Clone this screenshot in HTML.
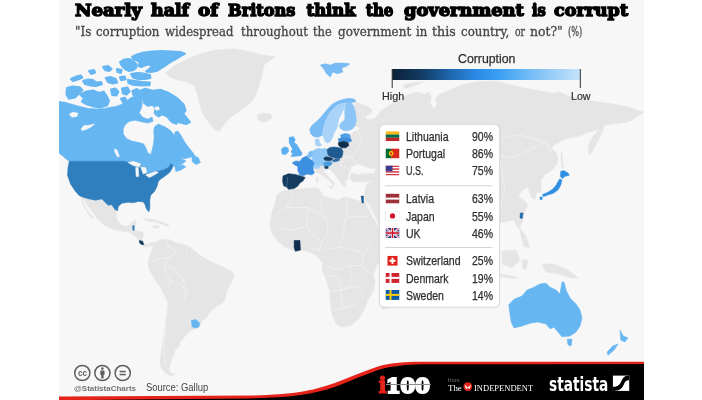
<!DOCTYPE html>
<html><head><meta charset="utf-8"><title>Nearly half of Britons think the government is corrupt</title>
<style>
html,body{margin:0;padding:0;background:#fff;}
body{width:702px;height:400px;position:relative;overflow:hidden;font-family:"Liberation Sans",sans-serif;}
#stage{position:absolute;left:59px;top:0;width:585px;height:400px;background:#f7f7f7;overflow:hidden;}
svg{position:absolute;left:0;top:0;}
.t{position:absolute;white-space:nowrap;line-height:1;transform-origin:0 0;}
.flag{position:absolute;left:385.5px;width:14px;height:10px;overflow:hidden;}
</style></head><body>
<div id="stage"></div>
<svg width="702" height="400" viewBox="0 0 702 400">
<defs>
<clipPath id="cl"><rect x="59" y="0" width="585" height="400"/></clipPath>
<linearGradient id="gr" x1="0" y1="0" x2="1" y2="0">
<stop offset="0" stop-color="#0b2238"/><stop offset="0.15" stop-color="#123a62"/><stop offset="0.3" stop-color="#1d64a8"/><stop offset="0.45" stop-color="#2a8be6"/><stop offset="0.56" stop-color="#3a9ff2"/><stop offset="0.76" stop-color="#7cc0f7"/><stop offset="1" stop-color="#c6e3fb"/>
</linearGradient>
</defs>
<g clip-path="url(#cl)">
<path d="M165.8,72.6 L173.3,66.3 L183.3,61.3 L193.3,56.3 L203.4,53.0 L213.4,50.5 L223.4,49.5 L232.7,48.8 L242.7,50.0 L252.7,52.5 L262.8,55.0 L275.3,57.0 L270.3,60.1 L264.0,65.1 L262.8,71.3 L261.5,77.6 L259.0,85.1 L256.5,92.6 L254.0,98.9 L249.0,103.9 L242.7,108.9 L235.2,113.9 L227.7,120.2 L222.7,126.5 L218.9,131.5 L213.9,129.0 L208.9,122.7 L203.9,115.2 L200.9,108.9 L198.9,101.4 L197.3,93.1 L193.8,85.6 L186.3,81.6 L176.3,79.6 L170.0,77.6Z" fill="#e5e5e5" stroke="#e5e5e5" stroke-width="0.6" stroke-linejoin="round"/>
<path d="M257.1,114.7 L262.7,113.2 L270.2,113.9 L272.7,116.4 L268.9,120.7 L262.7,122.2 L258.1,119.7Z" fill="#e5e5e5" stroke="#e5e5e5" stroke-width="0.6" stroke-linejoin="round"/>
<path d="M83.1,197.2 L89.3,198.9 L95.6,200.2 L101.9,198.9 L105.6,202.7 L108.1,205.2 L111.9,204.7 L115.1,209.7 L115.5,210.0 L116.3,216.0 L117.8,221.3 L121.6,225.3 L126.0,226.5 L129.8,225.0 L132.0,222.0 L135.3,220.5 L136.5,223.2 L134.8,226.5 L134.2,229.8 L137.5,231.0 L141.3,231.5 L143.8,233.3 L143.2,236.3 L142.0,239.3 L143.5,241.8 L145.0,244.5 L148.0,244.2 L151.8,242.4 L155.6,242.7 L155.6,245.3 L153.3,245.3 L149.5,246.0 L145.8,246.8 L142.8,246.0 L139.9,243.8 L138.7,240.8 L136.9,237.8 L133.3,234.6 L128.5,232.2 L121.6,231.0 L115.5,229.8 L109.5,228.0 L104.3,225.0 L99.8,221.3 L96.0,216.8 L93.0,212.3 L90.0,208.5 L87.0,204.0 L84.0,200.3Z" fill="#e5e5e5" stroke="#e5e5e5" stroke-width="0.6" stroke-linejoin="round"/>
<path d="M81.8,197.5 L83.3,202.5 L85.5,207.0 L88.5,211.5 L91.5,215.3 L93.8,218.3 L93.0,219.0 L90.0,216.0 L87.0,211.5 L84.0,206.3 L81.8,201.0Z" fill="#e5e5e5" stroke="#e5e5e5" stroke-width="0.6" stroke-linejoin="round"/>
<path d="M144.5,218.8 L153.2,219.5 L163.3,222.5 L168.3,224.5 L163.3,224.5 L154.5,222.0 L145.7,220.5Z" fill="#e5e5e5" stroke="#e5e5e5" stroke-width="0.6" stroke-linejoin="round"/>
<path d="M152.7,225.8 L158.8,225.8 L158.8,228.0 L153.2,228.0Z" fill="#e5e5e5" stroke="#e5e5e5" stroke-width="0.6" stroke-linejoin="round"/>
<path d="M165.3,224.5 L168.3,224.5 L168.3,226.0 L165.3,226.0Z" fill="#e5e5e5" stroke="#e5e5e5" stroke-width="0.6" stroke-linejoin="round"/>
<path d="M153.8,245.0 L157.6,241.3 L162.6,239.5 L168.8,239.5 L173.9,242.0 L180.1,243.8 L186.4,245.5 L192.7,248.8 L196.4,252.6 L201.4,256.3 L207.7,260.1 L215.2,263.8 L224.0,267.6 L231.5,271.4 L234.0,275.1 L232.8,280.1 L229.0,286.4 L226.5,292.7 L225.2,298.9 L221.5,303.9 L216.5,306.4 L211.5,310.2 L207.7,315.2 L205.2,319.0 L201.4,321.5 L200.2,325.2 L197.7,327.7 L191.4,330.3 L186.4,334.0 L183.9,337.8 L180.1,341.5 L178.9,346.5 L175.1,350.3 L173.9,355.3 L171.4,360.3 L170.1,365.3 L168.8,369.1 L171.4,372.9 L175.1,374.9 L170.1,375.4 L165.1,372.9 L161.3,367.8 L160.1,361.6 L161.3,352.8 L162.6,344.0 L163.8,335.3 L165.1,325.2 L166.3,315.2 L167.6,305.2 L167.6,301.4 L163.8,293.9 L160.1,286.4 L154.6,278.9 L150.1,271.4 L148.0,265.1 L148.8,258.8 L151.3,251.3Z" fill="#e5e5e5" stroke="#e5e5e5" stroke-width="0.6" stroke-linejoin="round"/>
<path d="M277.4,194.4 L283.0,191.1 L290.4,189.8 L299.6,189.3 L308.9,188.0 L318.1,188.0 L320.9,191.7 L323.7,196.3 L331.1,198.5 L338.5,200.0 L344.1,197.2 L349.6,198.1 L357.0,200.4 L362.6,201.9 L363.8,199.4 L368.3,208.8 L373.2,218.1 L378.8,227.5 L382.6,235.0 L390.1,238.0 L397.6,236.9 L395.7,240.7 L390.1,248.2 L382.6,255.7 L376.9,265.0 L373.2,274.4 L375.1,281.9 L373.2,291.3 L367.6,300.7 L363.8,310.1 L358.2,319.5 L350.7,325.8 L341.3,327.0 L335.7,323.2 L331.9,313.8 L330.0,302.6 L330.0,291.3 L326.3,280.1 L322.5,270.7 L322.5,263.2 L316.9,255.7 L309.4,251.9 L301.9,250.0 L294.4,250.8 L285.0,247.0 L277.5,240.7 L271.9,233.2 L270.0,223.8 L271.9,212.5 L275.6,201.3Z" fill="#e5e5e5" stroke="#e5e5e5" stroke-width="0.6" stroke-linejoin="round"/>
<path d="M382.6,291.3 L388.2,288.3 L390.8,295.1 L387.1,308.2 L382.6,309.3 L381.1,300.7Z" fill="#e5e5e5" stroke="#e5e5e5" stroke-width="0.6" stroke-linejoin="round"/>
<path d="M355.0,101.0 L360.0,104.0 L367.6,106.4 L372.6,110.0 L370.0,114.0 L365.0,116.4 L367.6,120.0 L374.0,119.0 L379.0,114.0 L380.0,111.3 L389.1,105.6 L398.2,99.9 L402.8,97.6 L410.0,94.0 L417.0,92.0 L424.4,94.2 L429.0,91.9 L431.3,97.6 L430.1,103.3 L433.6,109.0 L437.0,105.6 L435.8,98.7 L439.3,94.2 L446.1,91.9 L452.9,88.5 L462.0,85.1 L471.2,82.8 L480.3,81.7 L489.4,81.0 L498.5,81.7 L507.6,83.9 L516.8,86.2 L525.9,88.5 L540.0,90.8 L553.0,93.0 L560.0,92.0 L568.0,96.0 L583.0,99.0 L598.0,102.0 L613.0,104.0 L628.0,107.0 L640.0,111.0 L644.0,112.0 L639.0,115.0 L632.3,120.1 L625.6,122.4 L616.6,123.5 L607.6,124.6 L604.2,125.8 L602.0,132.5 L599.0,138.2 L596.3,143.8 L593.0,150.5 L590.0,154.6 L588.4,152.8 L588.4,147.2 L590.0,141.5 L593.0,136.6 L596.3,132.5 L599.0,129.1 L591.8,131.4 L585.0,133.6 L578.3,136.6 L569.3,138.2 L562.5,140.4 L555.8,143.8 L551.3,147.2 L553.5,150.5 L556.9,153.9 L558.0,158.4 L556.9,164.0 L553.5,168.6 L549.0,171.9 L544.5,175.3 L541.0,180.0 L541.0,192.4 L536.5,192.4 L535.3,199.1 L531.6,198.0 L529.7,192.4 L527.8,186.8 L522.2,190.5 L518.5,196.1 L524.1,199.9 L527.8,205.5 L524.1,213.0 L522.2,222.4 L518.5,229.5 L514.0,220.0 L504.0,222.0 L500.0,222.0 L495.0,235.0 L490.0,250.0 L440.0,260.0 L379.5,226.0 L377.0,220.0 L369.4,205.0 L364.5,199.0 L365.0,190.0 L367.0,184.0 L373.7,180.6 L366.3,181.5 L358.9,181.9 L352.4,181.5 L349.6,177.8 L351.5,173.0 L351.5,166.7 L349.0,172.0 L347.8,179.6 L345.0,182.4 L346.0,187.0 L343.0,186.0 L340.4,181.5 L336.7,176.9 L333.0,172.2 L329.0,169.0 L325.6,168.5 L323.7,171.9 L327.4,175.9 L331.0,179.6 L334.8,183.0 L333.9,186.0 L332.0,184.3 L329.3,180.6 L325.6,177.8 L321.9,175.0 L318.5,173.0 L315.4,171.9 L314.4,168.5 L308.0,162.0 L318.0,152.0 L335.0,152.0 L345.0,144.0 L348.0,139.0 L350.0,135.0 L353.0,132.0 L358.0,131.0 L360.0,128.0 L355.0,126.0 L355.0,112.0Z" fill="#e5e5e5" stroke="#e5e5e5" stroke-width="0.6" stroke-linejoin="round"/>
<path d="M351.5,166.7 L358.9,164.8 L366.3,167.6 L375.6,169.4 L373.7,173.1 L366.3,173.1 L357.0,174.0 L351.5,172.2Z" fill="#f7f7f7" stroke="#f7f7f7" stroke-width="0.6" stroke-linejoin="round"/>
<path d="M329.0,186.0 L333.5,186.0 L332.5,188.5 L329.5,187.5Z" fill="#e5e5e5" stroke="#e5e5e5" stroke-width="0.6" stroke-linejoin="round"/>
<path d="M316.3,177.0 L317.9,176.5 L318.0,182.0 L316.4,182.4Z" fill="#e5e5e5" stroke="#e5e5e5" stroke-width="0.6" stroke-linejoin="round"/>
<path d="M402.8,85.1 L411.9,82.8 L423.3,81.7 L418.7,83.9 L410.8,86.9 L405.0,88.5Z" fill="#e5e5e5" stroke="#e5e5e5" stroke-width="0.6" stroke-linejoin="round"/>
<path d="M561.4,150.5 L562.5,158.4 L563.6,166.3 L562.5,169.7 L561.4,164.0 L560.7,155.0Z" fill="#e5e5e5" stroke="#e5e5e5" stroke-width="0.4" stroke-linejoin="round"/>
<path d="M520.0,228.0 L526.0,236.0 L530.0,248.0 L524.0,246.0 L520.8,236.0Z" fill="#e5e5e5" stroke="#e5e5e5" stroke-width="0.6" stroke-linejoin="round"/>
<path d="M502.0,251.2 L516.0,250.0 L520.0,260.0 L512.0,268.0 L502.0,264.0Z" fill="#e5e5e5" stroke="#e5e5e5" stroke-width="0.6" stroke-linejoin="round"/>
<path d="M522.0,260.0 L528.0,260.0 L526.0,270.0 L522.4,268.0Z" fill="#e5e5e5" stroke="#e5e5e5" stroke-width="0.6" stroke-linejoin="round"/>
<path d="M542.0,264.0 L554.0,264.0 L568.0,270.0 L578.0,278.0 L570.0,278.0 L558.0,274.0 L546.0,272.0Z" fill="#e5e5e5" stroke="#e5e5e5" stroke-width="0.6" stroke-linejoin="round"/>
<path d="M496.0,273.2 L516.0,276.8 L516.0,278.8 L496.0,276.0Z" fill="#e5e5e5" stroke="#e5e5e5" stroke-width="0.6" stroke-linejoin="round"/>
<path d="M59.0,101.4 L65.4,102.3 L72.8,104.5 L80.2,106.5 L88.6,108.5 L96.9,109.0 L104.3,108.5 L111.7,107.0 L115.7,106.4 L122.1,104.2 L126.4,101.0 L130.6,97.8 L136.0,95.7 L140.3,97.8 L142.4,103.2 L141.3,108.5 L139.2,112.8 L142.4,117.1 L147.7,119.2 L152.0,117.1 L153.1,121.3 L147.7,123.0 L141.3,121.8 L134.9,120.3 L129.6,121.3 L125.3,124.5 L123.2,128.8 L123.2,134.1 L126.4,138.4 L131.7,141.0 L138.1,142.3 L143.5,143.8 L146.0,148.0 L147.7,152.9 L150.9,154.4 L152.4,149.1 L153.7,142.7 L154.2,136.3 L153.7,130.9 L154.6,126.7 L158.4,124.1 L164.8,126.7 L170.2,130.3 L174.5,135.2 L175.1,132.0 L177.7,130.9 L180.9,135.2 L184.1,141.0 L188.3,147.0 L192.6,152.3 L194.8,155.5 L190.5,157.2 L184.1,158.7 L180.8,157.6 L183.0,159.5 L186.0,161.0 L182.0,164.0 L178.0,166.0 L183.3,165.0 L185.8,167.0 L179.6,170.6 L175.8,171.4 L175.0,167.5 L173.3,165.1 L170.8,163.8 L168.3,167.6 L163.3,170.0 L158.3,171.4 L155.7,171.4 L145.7,175.0 L147.0,172.6 L145.7,167.6 L140.7,167.0 L140.7,163.8 L133.2,161.3 L128.2,162.6 L124.4,161.3 L69.3,161.3 L66.8,159.6 L63.0,156.3 L59.0,153.0Z" fill="#66b6f2" stroke="#66b6f2" stroke-width="0.6" stroke-linejoin="round"/>
<path d="M192.0,155.0 L198.3,157.6 L200.4,162.6 L195.8,164.6 L192.0,161.3Z" fill="#66b6f2" stroke="#66b6f2" stroke-width="0.6" stroke-linejoin="round"/>
<path d="M114.4,148.8 L116.9,150.0 L119.4,156.3 L117.6,157.0 L115.1,152.6Z" fill="#f7f7f7" stroke="#f7f7f7" stroke-width="0.6" stroke-linejoin="round"/>
<path d="M81.0,129.0 L84.0,125.5 L88.0,125.5 L94.5,124.0 L91.0,127.0 L86.0,129.5 L82.0,130.5Z" fill="#f7f7f7" stroke="#f7f7f7" stroke-width="0.6" stroke-linejoin="round"/>
<path d="M69.3,114.0 L73.0,112.2 L78.0,113.2 L76.8,116.4 L71.8,117.2Z" fill="#f7f7f7" stroke="#f7f7f7" stroke-width="0.6" stroke-linejoin="round"/>
<path d="M132.0,57.0 L137.0,54.4 L144.0,52.4 L152.0,51.4 L162.0,51.0 L172.0,51.4 L180.0,52.0 L185.0,53.6 L181.0,56.0 L177.0,58.4 L172.0,61.0 L168.0,63.6 L164.0,66.4 L160.0,69.0 L156.0,71.0 L151.0,72.0 L146.0,71.6 L149.0,69.0 L152.0,66.4 L149.0,64.4 L145.0,65.6 L141.0,67.0 L138.0,65.6 L140.0,62.4 L137.0,60.4 L133.6,59.6Z" fill="#66b6f2" stroke="#66b6f2" stroke-width="2.0" stroke-linejoin="round"/>
<path d="M120.0,62.0 L124.0,59.6 L129.0,59.0 L133.0,61.0 L136.0,63.6 L136.4,67.6 L133.6,70.0 L129.0,71.0 L125.0,69.0 L122.0,66.0Z" fill="#66b6f2" stroke="#66b6f2" stroke-width="2.0" stroke-linejoin="round"/>
<path d="M131.0,74.0 L137.0,73.0 L144.0,73.6 L150.0,75.0 L150.4,78.0 L145.0,79.0 L138.0,79.0 L133.0,77.6Z" fill="#66b6f2" stroke="#66b6f2" stroke-width="2.0" stroke-linejoin="round"/>
<path d="M128.0,80.0 L135.0,81.0 L143.0,82.0 L150.0,82.4 L149.6,85.2 L141.0,85.6 L133.0,84.8 L128.4,83.0Z" fill="#66b6f2" stroke="#66b6f2" stroke-width="2.0" stroke-linejoin="round"/>
<path d="M71.0,79.0 L76.0,76.6 L81.0,75.6 L82.4,77.6 L78.0,79.6 L73.0,81.0Z" fill="#66b6f2" stroke="#66b6f2" stroke-width="2.0" stroke-linejoin="round"/>
<path d="M83.0,81.0 L88.0,79.4 L93.0,80.0 L96.0,82.6 L101.0,82.0 L102.0,84.4 L96.0,86.0 L90.0,85.4 L85.0,84.0Z" fill="#66b6f2" stroke="#66b6f2" stroke-width="2.0" stroke-linejoin="round"/>
<path d="M89.0,71.0 L94.0,70.0 L95.2,72.6 L91.2,74.0Z" fill="#66b6f2" stroke="#66b6f2" stroke-width="2.0" stroke-linejoin="round"/>
<path d="M103.0,67.0 L108.0,66.0 L111.6,69.0 L109.0,71.0 L105.0,70.0Z" fill="#66b6f2" stroke="#66b6f2" stroke-width="2.0" stroke-linejoin="round"/>
<path d="M105.6,78.0 L110.4,77.0 L115.6,79.0 L117.2,82.6 L112.8,83.6 L108.0,82.0Z" fill="#66b6f2" stroke="#66b6f2" stroke-width="2.0" stroke-linejoin="round"/>
<path d="M117.0,69.0 L121.6,70.0 L120.8,73.0 L117.4,72.0Z" fill="#66b6f2" stroke="#66b6f2" stroke-width="2.0" stroke-linejoin="round"/>
<path d="M120.0,77.0 L124.8,76.6 L125.6,79.4 L120.8,80.0Z" fill="#66b6f2" stroke="#66b6f2" stroke-width="2.0" stroke-linejoin="round"/>
<path d="M67.0,88.0 L73.0,86.4 L79.6,87.2 L82.4,90.0 L78.4,94.0 L75.0,97.6 L69.0,98.8 L66.4,94.4Z" fill="#66b6f2" stroke="#66b6f2" stroke-width="2.0" stroke-linejoin="round"/>
<path d="M80.0,94.4 L86.0,91.6 L93.6,90.6 L99.0,93.0 L103.6,91.6 L106.4,95.6 L109.0,100.6 L107.2,105.4 L100.6,107.4 L93.2,106.4 L86.6,104.4 L82.0,101.6 L84.0,98.4Z" fill="#66b6f2" stroke="#66b6f2" stroke-width="2.0" stroke-linejoin="round"/>
<path d="M111.0,89.6 L115.6,88.6 L118.4,92.0 L116.4,95.6 L112.2,95.0Z" fill="#66b6f2" stroke="#66b6f2" stroke-width="2.0" stroke-linejoin="round"/>
<path d="M122.0,88.6 L127.6,87.6 L129.6,91.6 L126.6,94.6 L123.0,93.6Z" fill="#66b6f2" stroke="#66b6f2" stroke-width="2.0" stroke-linejoin="round"/>
<path d="M121.0,98.6 L124.8,97.6 L126.6,100.6 L123.0,102.6Z" fill="#66b6f2" stroke="#66b6f2" stroke-width="2.0" stroke-linejoin="round"/>
<path d="M132.4,91.0 L137.0,89.0 L139.6,91.6 L145.2,90.0 L150.8,90.4 L158.0,93.0 L163.6,96.4 L169.2,100.4 L174.8,105.2 L180.4,111.2 L186.0,117.0 L190.0,122.0 L186.0,124.0 L178.0,122.0 L171.2,119.0 L166.0,116.0 L162.0,113.6 L158.0,109.0 L154.0,105.0 L150.8,100.0 L145.2,98.4 L140.4,100.0 L136.0,98.0 L133.2,94.6Z" fill="#66b6f2" stroke="#66b6f2" stroke-width="2.0" stroke-linejoin="round"/>
<path d="M139.2,90.3 L145.6,88.2 L152.0,90.3 L160.6,89.3 L169.1,92.5 L177.7,97.8 L184.1,104.2 L186.2,110.6 L183.0,114.9 L177.7,113.8 L179.8,119.2 L176.6,124.5 L171.2,122.4 L167.0,117.1 L162.7,114.9 L158.4,117.1 L154.2,113.8 L155.2,108.5 L152.0,105.3 L147.7,106.4 L143.5,103.2 L142.4,97.8 L140.3,94.6Z" fill="#66b6f2" stroke="#66b6f2" stroke-width="1.0" stroke-linejoin="round"/>
<path d="M154.6,107.2 L158.4,106.4 L159.7,109.4 L156.3,110.6Z" fill="#f7f7f7" stroke="#f7f7f7" stroke-width="0.3" stroke-linejoin="round"/>
<path d="M69.3,161.3 L124.4,161.3 L128.2,162.6 L133.2,161.3 L140.7,163.8 L140.7,167.0 L145.7,167.6 L147.0,172.6 L145.7,175.0 L155.7,171.4 L158.3,171.4 L163.3,170.0 L168.3,167.6 L170.8,163.8 L173.3,165.1 L172.0,168.8 L169.5,172.6 L164.5,176.4 L160.8,178.9 L158.3,181.4 L157.0,186.4 L154.5,191.4 L150.7,195.2 L149.8,199.5 L149.8,204.0 L149.8,208.5 L148.8,211.8 L146.5,209.0 L145.0,204.5 L143.2,201.8 L138.2,201.4 L133.2,202.7 L128.2,202.2 L121.9,203.2 L118.2,206.4 L117.6,210.7 L115.1,209.7 L111.9,204.7 L108.1,205.2 L105.6,202.7 L101.9,198.9 L95.6,200.2 L89.3,198.9 L83.1,197.2 L79.3,195.7 L75.5,191.4 L70.5,183.9 L67.5,175.1 L68.0,167.6Z" fill="#2f7ebe" stroke="#2f7ebe" stroke-width="0.6" stroke-linejoin="round"/>
<path d="M128.2,162.6 L133.2,161.3 L140.7,163.8 L139.5,167.1 L133.2,165.6Z" fill="#f7f7f7" stroke="#f7f7f7" stroke-width="0.6" stroke-linejoin="round"/>
<path d="M135.7,167.6 L138.2,167.6 L138.7,176.4 L136.2,176.4Z" fill="#f7f7f7" stroke="#f7f7f7" stroke-width="0.6" stroke-linejoin="round"/>
<path d="M140.7,167.1 L145.7,167.6 L147.0,172.6 L143.2,173.9Z" fill="#f7f7f7" stroke="#f7f7f7" stroke-width="0.6" stroke-linejoin="round"/>
<path d="M145.7,175.1 L155.7,171.4 L158.3,172.6 L149.5,177.6Z" fill="#f7f7f7" stroke="#f7f7f7" stroke-width="0.6" stroke-linejoin="round"/>
<path d="M309.8,129.0 L312.0,125.3 L316.5,121.5 L321.0,117.0 L324.8,112.5 L328.5,108.0 L332.3,104.3 L337.5,101.3 L343.5,99.3 L349.5,98.3 L354.8,99.3 L355.8,101.3 L352.5,102.6 L351.0,102.8 L346.5,102.8 L342.0,103.5 L337.5,105.0 L333.8,108.0 L330.0,112.5 L327.0,117.8 L324.8,123.0 L323.3,129.0 L322.5,135.0 L318.0,137.3 L313.5,136.5 L310.5,133.5Z" fill="#79bbf4" stroke="#79bbf4" stroke-width="0.6" stroke-linejoin="round"/>
<path d="M342.0,103.5 L346.5,104.3 L345.0,105.0 L343.5,109.5 L341.3,114.0 L339.3,117.8 L338.3,121.5 L337.5,126.0 L336.0,129.8 L333.8,133.5 L332.3,138.0 L330.0,141.8 L327.0,143.3 L324.8,141.0 L323.3,136.5 L322.5,135.0 L323.3,129.0 L324.8,123.0 L327.0,117.8 L330.0,112.5 L333.8,108.0 L337.5,105.0Z" fill="#a9d3f8" stroke="#a9d3f8" stroke-width="0.6" stroke-linejoin="round"/>
<path d="M346.5,102.8 L351.0,102.8 L353.3,105.0 L354.8,109.5 L355.8,114.8 L356.3,120.0 L355.2,125.3 L352.5,129.0 L348.0,130.8 L343.5,130.5 L340.2,128.3 L339.3,125.3 L341.7,122.3 L344.7,120.0 L345.0,117.0 L344.7,112.5 L345.0,108.0 L345.8,105.0Z" fill="#8cc5f6" stroke="#8cc5f6" stroke-width="0.6" stroke-linejoin="round"/>
<path d="M320.3,65.1 L325.3,63.8 L330.3,65.1 L335.3,63.1 L342.9,63.1 L349.9,63.8 L346.6,66.3 L341.6,68.1 L342.9,72.1 L337.8,73.8 L332.8,72.1 L330.3,77.1 L326.6,73.8 L324.1,69.6Z" fill="#79bbf4" stroke="#79bbf4" stroke-width="0.6" stroke-linejoin="round"/>
<path d="M340.5,135.0 L345.0,133.5 L349.5,134.3 L350.3,137.3 L345.0,138.0 L341.3,137.7Z" fill="#4da0e8" stroke="#4da0e8" stroke-width="0.6" stroke-linejoin="round"/>
<path d="M338.3,138.8 L342.0,137.7 L350.3,138.0 L351.8,141.0 L348.0,142.5 L343.5,141.0 L339.0,141.8Z" fill="#3f8fdc" stroke="#3f8fdc" stroke-width="0.6" stroke-linejoin="round"/>
<path d="M338.3,142.5 L343.5,141.3 L348.0,142.8 L348.8,145.5 L345.8,147.8 L341.3,147.8 L338.7,145.5Z" fill="#0f2f4d" stroke="#0f2f4d" stroke-width="0.6" stroke-linejoin="round"/>
<path d="M312.0,151.5 L315.0,149.5 L318.5,148.5 L322.0,149.0 L325.5,148.5 L327.0,149.5 L327.5,152.0 L328.0,155.0 L326.0,156.8 L323.8,158.0 L324.2,159.5 L326.0,160.5 L324.5,162.0 L323.7,163.0 L323.8,165.2 L321.5,165.8 L318.0,165.4 L315.0,164.8 L313.0,164.0 L312.0,161.0 L312.5,158.0 L312.0,154.5Z" fill="#8fc7f7" stroke="#8fc7f7" stroke-width="0.6" stroke-linejoin="round"/>
<path d="M327.0,149.5 L330.0,147.5 L334.0,147.0 L338.0,147.5 L341.5,148.5 L343.0,151.5 L342.5,155.0 L341.5,157.5 L339.0,158.5 L336.0,158.5 L333.0,157.5 L330.0,156.5 L328.0,155.0 L327.5,152.0Z" fill="#1f5b90" stroke="#1f5b90" stroke-width="0.6" stroke-linejoin="round"/>
<path d="M323.8,158.0 L326.0,156.8 L328.5,157.0 L331.0,157.8 L333.0,158.8 L331.5,160.2 L328.5,160.8 L326.0,160.5 L324.2,159.5Z" fill="#143a60" stroke="#143a60" stroke-width="0.6" stroke-linejoin="round"/>
<path d="M332.5,160.2 L334.5,159.2 L338.0,159.0 L340.0,159.8 L338.0,161.0 L334.5,161.8 L332.8,161.5Z" fill="#2a6aa5" stroke="#2a6aa5" stroke-width="0.6" stroke-linejoin="round"/>
<path d="M323.7,163.0 L326.0,161.8 L330.5,161.6 L332.2,162.8 L331.0,165.2 L328.0,166.5 L325.0,166.5 L323.8,165.2Z" fill="#4a9be0" stroke="#4a9be0" stroke-width="0.6" stroke-linejoin="round"/>
<path d="M324.4,166.7 L327.8,166.5 L328.2,168.2 L325.6,168.8Z" fill="#143a60" stroke="#143a60" stroke-width="0.6" stroke-linejoin="round"/>
<path d="M315.0,139.5 L318.8,138.8 L319.5,142.5 L321.8,144.8 L319.5,146.3 L315.8,145.5Z" fill="#a8d3f8" stroke="#a8d3f8" stroke-width="0.6" stroke-linejoin="round"/>
<path d="M309.0,152.0 L312.0,151.0 L312.5,154.0 L312.0,156.0 L311.5,157.0 L309.5,157.8 L307.2,156.8 L307.0,155.2 L308.5,154.2Z" fill="#7dbdf5" stroke="#7dbdf5" stroke-width="0.6" stroke-linejoin="round"/>
<path d="M292.2,162.8 L295.9,160.9 L299.6,161.5 L302.4,158.1 L306.1,156.3 L309.8,159.1 L313.5,161.9 L314.4,165.6 L313.0,169.3 L314.4,173.0 L311.7,174.8 L307.0,173.9 L303.3,175.7 L299.6,174.8 L297.8,170.2 L297.8,166.5 L294.1,164.6Z" fill="#3d8fe0" stroke="#3d8fe0" stroke-width="0.6" stroke-linejoin="round"/>
<path d="M313.5,165.4 L317.5,165.2 L319.8,166.0 L319.5,167.8 L316.0,168.4 L313.6,167.6Z" fill="#9dcdf8" stroke="#9dcdf8" stroke-width="0.6" stroke-linejoin="round"/>
<path d="M283.0,175.9 L288.5,173.7 L295.0,174.4 L300.6,175.9 L305.2,177.4 L303.3,180.6 L299.6,183.3 L297.8,186.1 L294.1,188.5 L288.5,189.3 L286.7,187.0 L283.9,186.1 L282.6,181.5Z" fill="#143c5f" stroke="#143c5f" stroke-width="0.6" stroke-linejoin="round"/>
<path d="M289.4,137.8 L293.1,136.9 L295.0,139.6 L293.7,142.4 L296.9,145.2 L299.6,149.8 L301.9,153.5 L300.6,155.4 L295.9,155.9 L291.3,156.3 L293.1,153.5 L291.3,151.7 L293.1,148.9 L291.3,146.1 L289.4,142.4Z" fill="#5aaef0" stroke="#5aaef0" stroke-width="1.1" stroke-linejoin="round"/>
<path d="M281.5,148.9 L284.8,146.7 L288.1,148.0 L288.5,151.7 L285.7,154.4 L282.0,154.1Z" fill="#5aaef0" stroke="#5aaef0" stroke-width="0.6" stroke-linejoin="round"/>
<path d="M560.7,171.3 L563.6,170.4 L568.2,173.1 L569.3,175.3 L564.8,176.4 L562.5,178.7 L560.3,176.4Z" fill="#2f8fe0" stroke="#2f8fe0" stroke-width="0.4" stroke-linejoin="round"/>
<path d="M559.8,178.7 L562.1,180.3 L560.7,185.5 L558.0,190.0 L553.5,193.3 L547.9,195.1 L543.4,196.7 L542.3,194.5 L547.9,192.2 L552.4,189.3 L555.8,185.5 L558.0,181.6Z" fill="#2f8fe0" stroke="#2f8fe0" stroke-width="0.4" stroke-linejoin="round"/>
<path d="M540.0,196.7 L542.7,197.4 L541.8,200.0 L540.0,199.6Z" fill="#2f8fe0" stroke="#2f8fe0" stroke-width="0.4" stroke-linejoin="round"/>
<path d="M520.4,213.0 L523.0,213.0 L522.2,218.6 L520.0,217.9Z" fill="#1f6aa8" stroke="#1f6aa8" stroke-width="0.6" stroke-linejoin="round"/>
<path d="M508.8,304.8 L514.0,299.2 L522.0,296.0 L527.2,290.0 L534.0,287.2 L540.0,284.0 L546.0,283.2 L550.0,287.2 L556.0,290.0 L560.0,294.0 L562.0,282.0 L564.0,282.0 L566.0,290.0 L570.0,298.0 L576.0,304.0 L580.0,310.0 L582.0,318.0 L580.0,326.0 L576.0,332.0 L570.0,336.0 L562.0,336.8 L558.0,332.0 L554.0,327.2 L550.0,328.8 L546.0,324.0 L538.0,322.0 L530.0,323.2 L522.0,326.0 L514.0,328.0 L511.2,322.0 L510.0,314.0Z" fill="#66b6f2" stroke="#66b6f2" stroke-width="0.6" stroke-linejoin="round"/>
<path d="M567.2,339.2 L572.0,339.2 L571.2,346.0 L568.0,344.8Z" fill="#66b6f2" stroke="#66b6f2" stroke-width="0.6" stroke-linejoin="round"/>
<path d="M620.0,330.0 L623.2,336.0 L628.0,338.0 L624.8,342.0 L620.8,340.0Z" fill="#66b6f2" stroke="#66b6f2" stroke-width="0.6" stroke-linejoin="round"/>
<path d="M618.0,344.0 L614.0,350.0 L608.0,355.2 L607.2,352.0 L612.8,346.0Z" fill="#66b6f2" stroke="#66b6f2" stroke-width="0.6" stroke-linejoin="round"/>
<path d="M191.4,320.6 L195.7,319.5 L199.7,323.1 L198.9,327.1 L194.7,328.1 L191.4,326.3Z" fill="#66b6f2" stroke="#66b6f2" stroke-width="0.6" stroke-linejoin="round"/>
<path d="M139.5,240.5 L142.5,241.3 L143.8,244.5 L141.3,244.5 L139.5,242.5Z" fill="#143c5f" stroke="#143c5f" stroke-width="0.6" stroke-linejoin="round"/>
<path d="M294.2,240.5 L299.9,240.5 L300.4,250.1 L295.4,251.3 L294.2,247.5Z" fill="#0f2f4d" stroke="#0f2f4d" stroke-width="0.6" stroke-linejoin="round"/>
<path d="M361.0,196.0 L363.5,196.0 L363.5,203.0 L362.0,203.0Z" fill="#1f5b90" stroke="#1f5b90" stroke-width="0.4" stroke-linejoin="round"/>
<path d="M132.7,225.8 L134.2,225.8 L134.2,230.3 L132.9,230.3Z" fill="#2f7ebe" stroke="#2f7ebe" stroke-width="0.6" stroke-linejoin="round"/>
<path d="M292.5,196.2 L286.9,207.5 L277.5,213.1" fill="none" stroke="#f3f3f3" stroke-width="0.7" stroke-linejoin="round"/>
<path d="M322.5,192.5 L320.6,207.5 L326.2,218.7" fill="none" stroke="#f3f3f3" stroke-width="0.7" stroke-linejoin="round"/>
<path d="M346.9,194.4 L346.9,216.9 L368.2,216.9" fill="none" stroke="#f3f3f3" stroke-width="0.7" stroke-linejoin="round"/>
<path d="M286.9,207.5 L307.5,207.5 L307.5,226.2 L292.5,230.0 L277.5,228.1" fill="none" stroke="#f3f3f3" stroke-width="0.7" stroke-linejoin="round"/>
<path d="M307.5,207.5 L326.2,218.7 L328.1,233.7 L322.5,241.2" fill="none" stroke="#f3f3f3" stroke-width="0.7" stroke-linejoin="round"/>
<path d="M345.0,218.0 L343.1,237.5 L339.4,246.9" fill="none" stroke="#f3f3f3" stroke-width="0.7" stroke-linejoin="round"/>
<path d="M307.5,226.2 L311.2,233.7 L322.5,241.2 L318.7,250.6 L309.4,246.9" fill="none" stroke="#f3f3f3" stroke-width="0.7" stroke-linejoin="round"/>
<path d="M292.5,230.0 L293.2,235.6" fill="none" stroke="#f3f3f3" stroke-width="0.7" stroke-linejoin="round"/>
<path d="M322.5,250.6 L339.4,246.9 L356.2,250.6 L363.7,254.4" fill="none" stroke="#f3f3f3" stroke-width="0.7" stroke-linejoin="round"/>
<path d="M361.9,233.7 L371.2,245.0 L363.7,254.4 L361.9,265.6 L369.4,273.1" fill="none" stroke="#f3f3f3" stroke-width="0.7" stroke-linejoin="round"/>
<path d="M350.6,265.6 L361.9,265.6" fill="none" stroke="#f3f3f3" stroke-width="0.7" stroke-linejoin="round"/>
<path d="M326.2,265.6 L337.5,269.4 L350.6,265.6 L350.6,286.2 L341.2,290.0" fill="none" stroke="#f3f3f3" stroke-width="0.7" stroke-linejoin="round"/>
<path d="M326.2,275.0 L339.4,276.9 L341.2,290.0 L326.2,291.9" fill="none" stroke="#f3f3f3" stroke-width="0.7" stroke-linejoin="round"/>
<path d="M341.2,290.0 L358.1,286.2 L363.7,297.5" fill="none" stroke="#f3f3f3" stroke-width="0.7" stroke-linejoin="round"/>
<path d="M326.2,291.9 L331.9,305.0" fill="none" stroke="#f3f3f3" stroke-width="0.7" stroke-linejoin="round"/>
<path d="M341.2,291.9 L343.1,308.7 L333.7,310.6" fill="none" stroke="#f3f3f3" stroke-width="0.7" stroke-linejoin="round"/>
<path d="M343.1,308.7 L358.1,303.1" fill="none" stroke="#f3f3f3" stroke-width="0.7" stroke-linejoin="round"/>
<path d="M166.2,240.5 L168.9,247.5 L174.1,248.4 L175.0,253.6" fill="none" stroke="#f3f3f3" stroke-width="0.7" stroke-linejoin="round"/>
<path d="M186.3,245.4 L187.2,251.9" fill="none" stroke="#f3f3f3" stroke-width="0.7" stroke-linejoin="round"/>
<path d="M192.5,248.9 L191.6,253.6" fill="none" stroke="#f3f3f3" stroke-width="0.7" stroke-linejoin="round"/>
<path d="M175.0,253.6 L168.9,258.0 L164.5,263.2 L168.9,267.6 L175.0,269.3 L177.6,275.5 L182.8,278.1 L184.6,284.2 L187.2,288.6 L185.8,294.7 L183.7,300.0" fill="none" stroke="#f3f3f3" stroke-width="0.7" stroke-linejoin="round"/>
<path d="M150.5,260.6 L156.6,261.5 L157.5,258.9 L168.9,258.0" fill="none" stroke="#f3f3f3" stroke-width="0.7" stroke-linejoin="round"/>
<path d="M164.5,263.2 L166.2,273.7 L170.6,280.7 L168.0,287.7" fill="none" stroke="#f3f3f3" stroke-width="0.7" stroke-linejoin="round"/>
<path d="M170.6,280.7 L177.6,282.5 L182.8,286.0 L185.8,294.7" fill="none" stroke="#f3f3f3" stroke-width="0.7" stroke-linejoin="round"/>
<path d="M167.6,305.0 L165.6,325.1 L164.1,350.1 L165.6,367.7" fill="none" stroke="#f3f3f3" stroke-width="0.7" stroke-linejoin="round"/>
<path d="M183.9,315.0 L190.2,321.3 L191.4,326.3" fill="none" stroke="#f3f3f3" stroke-width="0.7" stroke-linejoin="round"/>
<path d="M356.0,126.0 L362.0,140.0 L358.0,150.0 L352.0,156.0 L356.0,166.0" fill="none" stroke="#f3f3f3" stroke-width="0.7" stroke-linejoin="round"/>
<path d="M352.0,156.0 L344.0,158.0 L340.0,165.0 L350.0,170.0" fill="none" stroke="#f3f3f3" stroke-width="0.7" stroke-linejoin="round"/>
<path d="M395.0,140.0 L420.0,132.0 L450.0,138.0 L470.0,130.0 L490.0,140.0 L520.0,135.0 L545.0,142.0 L552.0,153.0" fill="none" stroke="#f3f3f3" stroke-width="0.7" stroke-linejoin="round"/>
<path d="M470.0,130.0 L480.0,150.0 L510.0,158.0 L530.0,150.0 L545.0,142.0" fill="none" stroke="#f3f3f3" stroke-width="0.7" stroke-linejoin="round"/>
<path d="M500.0,160.0 L505.0,190.0 L500.0,210.0" fill="none" stroke="#f3f3f3" stroke-width="0.7" stroke-linejoin="round"/>
<path d="M287.2,176.6 L287.6,181 L286.6,185 L287,188" fill="none" stroke="#5f86a8" stroke-width="0.5"/>
</g>
<!-- legend bar -->
<rect x="392.2" y="69" width="188.2" height="11" fill="url(#gr)"/>
<rect x="391.7" y="69" width="1" height="19" fill="#333"/>
<rect x="579.8" y="69" width="1" height="19" fill="#333"/>
<!-- list box -->
<rect x="378.5" y="123.7" width="122" height="185" rx="6" ry="6" fill="#000" fill-opacity="0.04"/>
<rect x="379.5" y="124.5" width="120" height="182.6" rx="5" ry="5" fill="#fff" stroke="#dcdcdc" stroke-width="1"/>
<rect x="385" y="185.3" width="107.5" height="1" fill="#d5d5d5"/>
<rect x="385" y="247" width="107.5" height="1" fill="#d5d5d5"/>
<clipPath id="fclt"><rect x="385.50" y="131.15" width="14.00" height="10.00"/></clipPath><g clip-path="url(#fclt)"><rect x="385.50" y="131.15" width="14.00" height="3.33" fill="#fdb913"/><rect x="385.50" y="134.48" width="14.00" height="3.33" fill="#006a44"/><rect x="385.50" y="137.82" width="14.00" height="3.33" fill="#c1272d"/></g>
<clipPath id="fcpt"><rect x="385.50" y="148.40" width="14.00" height="10.00"/></clipPath><g clip-path="url(#fcpt)"><rect x="385.50" y="148.40" width="5.60" height="10.00" fill="#046a38"/><rect x="391.10" y="148.40" width="8.40" height="10.00" fill="#da291c"/><circle cx="391.10" cy="153.40" r="2.3" fill="#ffe000"/><circle cx="391.10" cy="153.40" r="1.2" fill="#da291c"/></g>
<clipPath id="fcus"><rect x="385.50" y="165.50" width="14.00" height="10.00"/></clipPath><g clip-path="url(#fcus)"><rect x="385.50" y="165.50" width="14.00" height="10.00" fill="#fff"/><rect x="385.50" y="165.50" width="14.00" height="1.43" fill="#d22f3c"/><rect x="385.50" y="168.36" width="14.00" height="1.43" fill="#d22f3c"/><rect x="385.50" y="171.21" width="14.00" height="1.43" fill="#d22f3c"/><rect x="385.50" y="174.07" width="14.00" height="1.43" fill="#d22f3c"/><rect x="385.50" y="165.50" width="7.00" height="5.71" fill="#3c3b8e"/></g>
<clipPath id="fclv"><rect x="385.50" y="193.60" width="14.00" height="10.00"/></clipPath><g clip-path="url(#fclv)"><rect x="385.50" y="193.60" width="14.00" height="10.00" fill="#9e3039"/><rect x="385.50" y="197.60" width="14.00" height="2.00" fill="#fff"/></g>
<clipPath id="fcjp"><rect x="385.50" y="210.90" width="14.00" height="10.00"/></clipPath><g clip-path="url(#fcjp)"><rect x="385.50" y="210.90" width="14.00" height="10.00" fill="#fff" stroke="#ddd" stroke-width="0.6"/><circle cx="392.50" cy="215.90" r="2.6" fill="#d30f2b"/></g>
<clipPath id="fcuk"><rect x="385.50" y="228.00" width="14.00" height="10.00"/></clipPath><g clip-path="url(#fcuk)"><rect x="385.50" y="228.00" width="14.00" height="10.00" fill="#233a87"/><path d="M385.50,228.00 L399.50,238.00 M399.50,228.00 L385.50,238.00" stroke="#fff" stroke-width="1.9"/><path d="M385.50,228.00 L399.50,238.00 M399.50,228.00 L385.50,238.00" stroke="#cf142b" stroke-width="0.6"/><rect x="391.00" y="228.00" width="3.00" height="10.00" fill="#fff"/><rect x="385.50" y="231.50" width="14.00" height="3.00" fill="#fff"/><rect x="391.70" y="228.00" width="1.60" height="10.00" fill="#cf142b"/><rect x="385.50" y="232.20" width="14.00" height="1.60" fill="#cf142b"/></g>
<clipPath id="fcch"><rect x="385.50" y="255.80" width="14.00" height="10.00"/></clipPath><g clip-path="url(#fcch)"><rect x="387.50" y="255.80" width="10.00" height="10.00" fill="#e0211b"/><rect x="391.50" y="257.80" width="2.00" height="6.00" fill="#fff"/><rect x="389.50" y="259.80" width="6.00" height="2.00" fill="#fff"/></g>
<clipPath id="fcdk"><rect x="385.50" y="272.90" width="14.00" height="10.00"/></clipPath><g clip-path="url(#fcdk)"><rect x="385.50" y="272.90" width="14.00" height="10.00" fill="#d2232f"/><rect x="389.50" y="272.90" width="2.00" height="10.00" fill="#fff"/><rect x="385.50" y="276.90" width="14.00" height="2.00" fill="#fff"/></g>
<clipPath id="fcse"><rect x="385.50" y="289.90" width="14.00" height="10.00"/></clipPath><g clip-path="url(#fcse)"><rect x="385.50" y="289.90" width="14.00" height="10.00" fill="#0d5ba6"/><rect x="389.50" y="289.90" width="2.00" height="10.00" fill="#fdcb0b"/><rect x="385.50" y="293.90" width="14.00" height="2.00" fill="#fdcb0b"/></g>
<!-- footer -->
<g clip-path="url(#cl)">
<path d="M59,396.5 L250,395.6 C290,394.5 310,392 335.5,382.8 C350,377 364,371.4 378,366.5 C392.5,362.5 405,362 421,361.8 L644,361.8 L644,400 L59,400Z" fill="#e5231b"/>
<path d="M59,400.3 L130,399.6 L250,398.4 C285,397.6 312,395.3 335.5,386.8 C350,381 364,375 378,370 C392.5,365.8 407,364.6 421,364.3 L644,364 L644,401 L59,401Z" fill="#000"/>
</g>
<circle cx="82.3" cy="373" r="7.6" fill="none" stroke="#5f5f5f" stroke-width="1.5"/>
<circle cx="102.4" cy="373" r="7.6" fill="none" stroke="#5f5f5f" stroke-width="1.5"/>
<circle cx="122.7" cy="373" r="7.6" fill="none" stroke="#5f5f5f" stroke-width="1.5"/>
<circle cx="102.4" cy="368.6" r="1.3" fill="#5f5f5f"/><rect x="100.3" y="370.4" width="4.2" height="4.6" rx="0.6" fill="#5f5f5f"/><rect x="101.2" y="374" width="2.4" height="4.4" fill="#5f5f5f"/>
<rect x="119.6" y="370.8" width="6.2" height="1.5" fill="#5f5f5f"/><rect x="119.6" y="373.8" width="6.2" height="1.5" fill="#5f5f5f"/>
<rect x="612.9" y="375.6" width="16.3" height="15.3" fill="#fff"/><path d="M612.9,390.9 L612.9,386.8 C619,386.8 619.8,384 621.2,381.5 C622.8,378.5 624,375.6 629.2,375.6 L629.2,380.2 C625.5,380.2 625,382 623.8,384.5 C622.2,388 620.5,390.9 612.9,390.9Z" fill="#000"/>
<circle cx="467.8" cy="386.6" r="4.4" fill="#e5231b"/><path d="M464.6,384.6 L467.8,387.4 L471,384.6 L469.6,389 L467.8,388 L466,389Z" fill="#fff"/>
</svg>
<h1 style="margin:0;font-size:inherit;font-weight:inherit;">
<span class="t" id="tt0" style="left:75.20px;top:2.50px;font-family:'DejaVu Serif',serif;font-size:16.40px;font-weight:bold;color:#000;-webkit-text-stroke:1.4px #000;transform:scaleX(1.1056);">Nearly</span> 
<span class="t" id="tt1" style="left:150.60px;top:2.50px;font-family:'DejaVu Serif',serif;font-size:16.40px;font-weight:bold;color:#000;-webkit-text-stroke:1.4px #000;transform:scaleX(1.0606);">half</span> 
<span class="t" id="tt2" style="left:198.00px;top:2.50px;font-family:'DejaVu Serif',serif;font-size:16.40px;font-weight:bold;color:#000;-webkit-text-stroke:1.4px #000;transform:scaleX(1.1176);">of</span> 
<span class="t" id="tt3" style="left:227.60px;top:2.50px;font-family:'DejaVu Serif',serif;font-size:16.40px;font-weight:bold;color:#000;-webkit-text-stroke:1.4px #000;transform:scaleX(0.9857);">Britons</span> 
<span class="t" id="tt4" style="left:306.60px;top:2.50px;font-family:'DejaVu Serif',serif;font-size:16.40px;font-weight:bold;color:#000;-webkit-text-stroke:1.4px #000;">think</span> 
<span class="t" id="tt5" style="left:366.00px;top:2.50px;font-family:'DejaVu Serif',serif;font-size:16.40px;font-weight:bold;color:#000;-webkit-text-stroke:1.4px #000;transform:scaleX(0.9090);">the</span> 
<span class="t" id="tt6" style="left:403.60px;top:2.50px;font-family:'DejaVu Serif',serif;font-size:16.40px;font-weight:bold;color:#000;-webkit-text-stroke:1.4px #000;transform:scaleX(1.0874);">government</span> 
<span class="t" id="tt7" style="left:532.30px;top:2.50px;font-family:'DejaVu Serif',serif;font-size:16.40px;font-weight:bold;color:#000;-webkit-text-stroke:1.4px #000;transform:scaleX(0.8986);">is</span> 
<span class="t" id="tt8" style="left:554.00px;top:2.50px;font-family:'DejaVu Serif',serif;font-size:16.40px;font-weight:bold;color:#000;-webkit-text-stroke:1.4px #000;transform:scaleX(1.0703);">corrupt</span> 
</h1>
<p style="margin:0;">
<span class="t" id="sb0" style="left:75.10px;top:26.40px;font-family:'DejaVu Serif',serif;font-size:12.80px;font-weight:normal;color:#444;-webkit-text-stroke:0.3px #444;transform:scaleX(0.9306);">&quot;Is</span> 
<span class="t" id="sb1" style="left:96.20px;top:26.40px;font-family:'DejaVu Serif',serif;font-size:12.80px;font-weight:normal;color:#444;-webkit-text-stroke:0.3px #444;transform:scaleX(0.9238);">corruption</span> 
<span class="t" id="sb2" style="left:165.40px;top:26.40px;font-family:'DejaVu Serif',serif;font-size:12.80px;font-weight:normal;color:#444;-webkit-text-stroke:0.3px #444;transform:scaleX(0.9109);">widespread</span> 
<span class="t" id="sb3" style="left:240.50px;top:26.40px;font-family:'DejaVu Serif',serif;font-size:12.80px;font-weight:normal;color:#444;-webkit-text-stroke:0.3px #444;transform:scaleX(0.9180);">throughout</span> 
<span class="t" id="sb4" style="left:313.20px;top:26.40px;font-family:'DejaVu Serif',serif;font-size:12.80px;font-weight:normal;color:#444;-webkit-text-stroke:0.3px #444;transform:scaleX(0.8966);">the</span> 
<span class="t" id="sb5" style="left:337.70px;top:26.40px;font-family:'DejaVu Serif',serif;font-size:12.80px;font-weight:normal;color:#444;-webkit-text-stroke:0.3px #444;transform:scaleX(0.9366);">government</span> 
<span class="t" id="sb6" style="left:415.70px;top:26.40px;font-family:'DejaVu Serif',serif;font-size:12.80px;font-weight:normal;color:#444;-webkit-text-stroke:0.3px #444;transform:scaleX(0.9154);">in</span> 
<span class="t" id="sb7" style="left:431.90px;top:26.40px;font-family:'DejaVu Serif',serif;font-size:12.80px;font-weight:normal;color:#444;-webkit-text-stroke:0.3px #444;transform:scaleX(0.9856);">this</span> 
<span class="t" id="sb8" style="left:461.30px;top:26.40px;font-family:'DejaVu Serif',serif;font-size:12.80px;font-weight:normal;color:#444;-webkit-text-stroke:0.3px #444;transform:scaleX(0.9269);">country,</span> 
<span class="t" id="sb9" style="left:515.40px;top:26.40px;font-family:'DejaVu Serif',serif;font-size:12.80px;font-weight:normal;color:#444;-webkit-text-stroke:0.3px #444;transform:scaleX(0.7232);">or</span> 
<span class="t" id="sb10" style="left:529.60px;top:26.40px;font-family:'DejaVu Serif',serif;font-size:12.80px;font-weight:normal;color:#444;-webkit-text-stroke:0.3px #444;transform:scaleX(0.9692);">not?&quot;</span> 
<span class="t" id="sb11" style="left:568.10px;top:26.40px;font-family:'DejaVu Serif',serif;font-size:12.80px;font-weight:normal;color:#444;-webkit-text-stroke:0.3px #444;transform:scaleX(0.6409);">(%)</span> 
</p>
<div class="t" id="cor" style="left:457.90px;top:52.90px;font-family:'Liberation Sans',sans-serif;font-size:12.50px;font-weight:normal;color:#2e2e2e;-webkit-text-stroke:0.25px #2e2e2e;transform:scaleX(0.9833);">Corruption</div> 
<div class="t" id="hi" style="left:382.00px;top:90.80px;font-family:'Liberation Sans',sans-serif;font-size:11.50px;font-weight:normal;color:#2e2e2e;-webkit-text-stroke:0.2px #2e2e2e;transform:scaleX(0.9384);">High</div> 
<div class="t" id="lo" style="left:571.00px;top:90.80px;font-family:'Liberation Sans',sans-serif;font-size:11.50px;font-weight:normal;color:#2e2e2e;-webkit-text-stroke:0.2px #2e2e2e;transform:scaleX(0.9238);">Low</div> 
<div class="t" id="n0" style="left:405.75px;top:130.75px;font-family:'Liberation Sans',sans-serif;font-size:12.20px;font-weight:normal;color:#2e2e2e;-webkit-text-stroke:0.25px #2e2e2e;transform:scaleX(0.8589);">Lithuania</div> 
<div class="t" id="p0" style="left:471.75px;top:130.75px;font-family:'Liberation Sans',sans-serif;font-size:12.20px;font-weight:normal;color:#2e2e2e;-webkit-text-stroke:0.25px #2e2e2e;transform:scaleX(0.8604);">90%</div> 
<div class="t" id="n1" style="left:405.75px;top:148.00px;font-family:'Liberation Sans',sans-serif;font-size:12.20px;font-weight:normal;color:#2e2e2e;-webkit-text-stroke:0.25px #2e2e2e;transform:scaleX(0.8620);">Portugal</div> 
<div class="t" id="p1" style="left:471.75px;top:148.00px;font-family:'Liberation Sans',sans-serif;font-size:12.20px;font-weight:normal;color:#2e2e2e;-webkit-text-stroke:0.25px #2e2e2e;transform:scaleX(0.8604);">86%</div> 
<div class="t" id="n2" style="left:405.75px;top:165.10px;font-family:'Liberation Sans',sans-serif;font-size:12.20px;font-weight:normal;color:#2e2e2e;-webkit-text-stroke:0.25px #2e2e2e;transform:scaleX(0.7425);">U.S.</div> 
<div class="t" id="p2" style="left:471.75px;top:165.10px;font-family:'Liberation Sans',sans-serif;font-size:12.20px;font-weight:normal;color:#2e2e2e;-webkit-text-stroke:0.25px #2e2e2e;transform:scaleX(0.8604);">75%</div> 
<div class="t" id="n3" style="left:405.75px;top:193.20px;font-family:'Liberation Sans',sans-serif;font-size:12.20px;font-weight:normal;color:#2e2e2e;-webkit-text-stroke:0.25px #2e2e2e;transform:scaleX(0.8620);">Latvia</div> 
<div class="t" id="p3" style="left:471.75px;top:193.20px;font-family:'Liberation Sans',sans-serif;font-size:12.20px;font-weight:normal;color:#2e2e2e;-webkit-text-stroke:0.25px #2e2e2e;transform:scaleX(0.8604);">63%</div> 
<div class="t" id="n4" style="left:405.75px;top:210.50px;font-family:'Liberation Sans',sans-serif;font-size:12.20px;font-weight:normal;color:#2e2e2e;-webkit-text-stroke:0.25px #2e2e2e;transform:scaleX(0.8620);">Japan</div> 
<div class="t" id="p4" style="left:471.75px;top:210.50px;font-family:'Liberation Sans',sans-serif;font-size:12.20px;font-weight:normal;color:#2e2e2e;-webkit-text-stroke:0.25px #2e2e2e;transform:scaleX(0.8604);">55%</div> 
<div class="t" id="n5" style="left:405.75px;top:227.60px;font-family:'Liberation Sans',sans-serif;font-size:12.20px;font-weight:normal;color:#2e2e2e;-webkit-text-stroke:0.25px #2e2e2e;transform:scaleX(0.8620);">UK</div> 
<div class="t" id="p5" style="left:471.75px;top:227.60px;font-family:'Liberation Sans',sans-serif;font-size:12.20px;font-weight:normal;color:#2e2e2e;-webkit-text-stroke:0.25px #2e2e2e;transform:scaleX(0.8604);">46%</div> 
<div class="t" id="n6" style="left:405.75px;top:255.40px;font-family:'Liberation Sans',sans-serif;font-size:12.20px;font-weight:normal;color:#2e2e2e;-webkit-text-stroke:0.25px #2e2e2e;transform:scaleX(0.8667);">Switzerland</div> 
<div class="t" id="p6" style="left:471.75px;top:255.40px;font-family:'Liberation Sans',sans-serif;font-size:12.20px;font-weight:normal;color:#2e2e2e;-webkit-text-stroke:0.25px #2e2e2e;transform:scaleX(0.8604);">25%</div> 
<div class="t" id="n7" style="left:405.75px;top:272.50px;font-family:'Liberation Sans',sans-serif;font-size:12.20px;font-weight:normal;color:#2e2e2e;-webkit-text-stroke:0.25px #2e2e2e;transform:scaleX(0.8620);">Denmark</div> 
<div class="t" id="p7" style="left:471.75px;top:272.50px;font-family:'Liberation Sans',sans-serif;font-size:12.20px;font-weight:normal;color:#2e2e2e;-webkit-text-stroke:0.25px #2e2e2e;transform:scaleX(0.8604);">19%</div> 
<div class="t" id="n8" style="left:405.75px;top:289.50px;font-family:'Liberation Sans',sans-serif;font-size:12.20px;font-weight:normal;color:#2e2e2e;-webkit-text-stroke:0.25px #2e2e2e;transform:scaleX(0.8620);">Sweden</div> 
<div class="t" id="p8" style="left:471.75px;top:289.50px;font-family:'Liberation Sans',sans-serif;font-size:12.20px;font-weight:normal;color:#2e2e2e;-webkit-text-stroke:0.25px #2e2e2e;transform:scaleX(0.8604);">14%</div> 
<div class="t" id="cc" style="left:77.80px;top:368.00px;font-family:'Liberation Sans',sans-serif;font-size:9.50px;font-weight:bold;color:#5f5f5f;transform:scaleX(0.8508);">cc</div> 
<div class="t" id="sc" style="left:74.00px;top:385.00px;font-family:'Liberation Sans',sans-serif;font-size:7.60px;font-weight:bold;color:#747474;transform:scaleX(1.0528);">@StatistaCharts</div> 
<div class="t" id="src" style="left:146.00px;top:382.00px;font-family:'Liberation Sans',sans-serif;font-size:11.50px;font-weight:normal;color:#444;transform:scaleX(0.8176);">Source: Gallup</div> 
<div class="t" id="i1" style="left:378.50px;top:374.90px;font-family:'DejaVu Serif',serif;font-size:21.60px;font-weight:bold;color:#e5231b;-webkit-text-stroke:1.1px #e5231b;">i</div> 
<div class="t" id="i2" style="left:386.20px;top:375.60px;font-family:'DejaVu Serif',serif;font-size:20.80px;font-weight:bold;color:#fff;-webkit-text-stroke:2.2px #fff;transform:scaleX(1.0087);">100</div> 
<div class="t" id="fr" style="left:448.20px;top:377.00px;font-family:'Liberation Sans',sans-serif;font-size:6.00px;font-weight:normal;color:#777;transform:scaleX(0.9583);">from</div> 
<div class="t" id="the" style="left:448.10px;top:383.70px;font-family:'Liberation Serif',serif;font-size:9.20px;font-weight:normal;color:#fff;transform:scaleX(0.9652);">The</div> 
<div class="t" id="ind" style="left:474.40px;top:383.70px;font-family:'Liberation Serif',serif;font-size:9.20px;font-weight:normal;color:#fff;transform:scaleX(0.9279);">INDEPENDENT</div> 
<div class="t" id="sta" style="left:549.20px;top:374.50px;font-family:'DejaVu Sans Condensed','DejaVu Sans',sans-serif;font-size:19.60px;font-weight:bold;color:#fff;transform:scaleX(0.7778);">statista</div> 
<div style="position:absolute;left:386.4px;top:384.2px;width:44.8px;height:0.7px;background:#8c8c8c;"></div>
</body></html>
